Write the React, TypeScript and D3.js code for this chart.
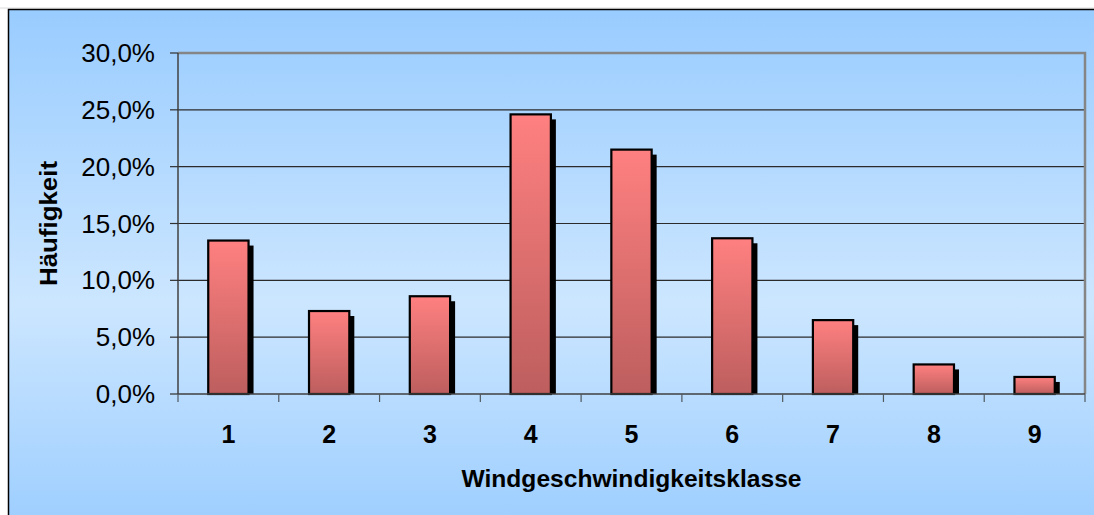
import React from "react";
import * as d3 from "d3";

// Wind speed class frequency distribution
const classes = ["1", "2", "3", "4", "5", "6", "7", "8", "9"];
const frequency = [13.5, 7.3, 8.6, 24.6, 21.5, 13.7, 6.5, 2.6, 1.5];
const yTicks = [0, 5, 10, 15, 20, 25, 30];

const W = 1094;
const H = 515;
const plot = { left: 178, right: 1085, top: 53, bottom: 394 };

const fmt = (v: number) => v.toFixed(1).replace(".", ",") + "%";

export default function App() {
  const x = d3
    .scaleBand<string>()
    .domain(classes)
    .range([plot.left, plot.right])
    .paddingInner(0.6)
    .paddingOuter(0.3);
  const band = (plot.right - plot.left) / classes.length;
  const y = d3.scaleLinear().domain([0, 30]).range([plot.bottom, plot.top]);
  const shadow = 5;

  return (
    <div style={{ position: "fixed", left: 0, top: 0, width: W, height: H, background: "#fff" }}>
      <svg width={W} height={H} style={{ display: "block", fontFamily: "'Liberation Sans', Arial, sans-serif" }}>
        <defs>
          <linearGradient id="bg" x1="0" y1="0" x2="0" y2="1">
            <stop offset="0" stopColor="#99CCFF" />
            <stop offset="0.55" stopColor="#CCE6FF" />
            <stop offset="1" stopColor="#99CCFF" />
          </linearGradient>
          <linearGradient id="bar" x1="0" y1="0" x2="0" y2="1">
            <stop offset="0" stopColor="#FF8080" />
            <stop offset="1" stopColor="#BD5E5E" />
          </linearGradient>
        </defs>

        <line x1={0} x2={W} y1={8} y2={8} stroke="#dcdcdc" strokeWidth={1} />
        <rect x={8.5} y={9.5} width={W + 20} height={H + 20} fill="url(#bg)" stroke="#000" strokeWidth={1.5} />

        {/* gridlines */}
        {yTicks.slice(1, -1).map((t) => (
          <line key={t} x1={plot.left} x2={plot.right} y1={y(t)} y2={y(t)} stroke="#2b2b2b" strokeWidth={1.2} />
        ))}

        {/* plot border top/right */}
        <path
          d={`M${plot.left},${plot.top} H${plot.right} V${plot.bottom}`}
          fill="none"
          stroke="#858585"
          strokeWidth={2.5}
        />

        {/* bars with drop shadow */}
        {frequency.map((v, i) => {
          const bx = x(classes[i])!;
          const bw = x.bandwidth();
          const top = y(v);
          return (
            <g key={classes[i]}>
              <rect x={bx + shadow} y={top + shadow} width={bw} height={plot.bottom - top - shadow} fill="#000" />
              <rect
                x={bx}
                y={top}
                width={bw}
                height={plot.bottom - top}
                fill="url(#bar)"
                stroke="#000"
                strokeWidth={2.2}
              />
            </g>
          );
        })}

        {/* axes */}
        <line x1={plot.left} x2={plot.left} y1={plot.top} y2={plot.bottom} stroke="#404040" strokeWidth={1.5} />
        <line x1={plot.left} x2={plot.right} y1={plot.bottom} y2={plot.bottom} stroke="#404040" strokeWidth={1.5} />
        {yTicks.map((t) => (
          <g key={t}>
            <line x1={plot.left - 8} x2={plot.left} y1={y(t)} y2={y(t)} stroke="#303030" strokeWidth={1.2} />
            <text x={155} y={y(t) + 9} textAnchor="end" fontSize={26} fill="#000">
              {fmt(t)}
            </text>
          </g>
        ))}
        {d3.range(classes.length + 1).map((i) => (
          <line
            key={i}
            x1={plot.left + i * band}
            x2={plot.left + i * band}
            y1={plot.bottom}
            y2={plot.bottom + 8}
            stroke="#505860"
            strokeWidth={1.2}
          />
        ))}
        {classes.map((c) => (
          <text
            key={c}
            x={x(c)! + x.bandwidth() / 2}
            y={443}
            textAnchor="middle"
            fontSize={25}
            fontWeight="bold"
            fill="#000"
          >
            {c}
          </text>
        ))}

        <text
          x={(plot.left + plot.right) / 2}
          y={487}
          textAnchor="middle"
          fontSize={24}
          fontWeight="bold"
          textLength={340}
          lengthAdjust="spacingAndGlyphs"
        >
          Windgeschwindigkeitsklasse
        </text>
        <text
          transform={`translate(57,${(plot.top + plot.bottom) / 2}) rotate(-90)`}
          textAnchor="middle"
          fontSize={23}
          fontWeight="bold"
          textLength={125}
          lengthAdjust="spacingAndGlyphs"
        >
          Häufigkeit
        </text>
      </svg>
    </div>
  );
}
